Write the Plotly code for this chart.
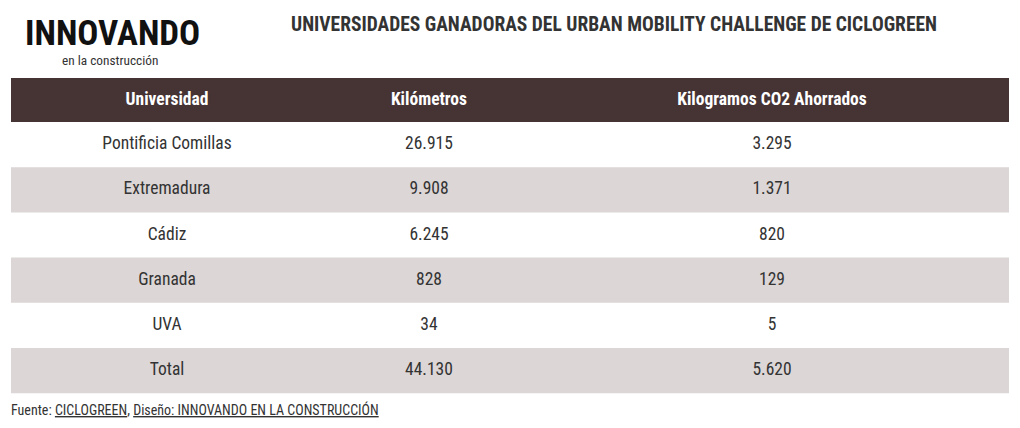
import plotly.graph_objects as go

universidades = ["Pontificia Comillas", "Extremadura", "Cádiz", "Granada", "UVA", "Total"]
kilometros = [26915, 9908, 6245, 828, 34, 44130]
kg_co2 = [3295, 1371, 820, 129, 5, 5620]
headers = ["Universidad", "Kilómetros", "Kilogramos CO2 Ahorrados"]

def fmt(v):
    return f"{v:,}".replace(",", ".")

W, H = 1020, 428
FONT = "Roboto Condensed, Liberation Sans Narrow, DejaVu Sans Condensed, Roboto, sans-serif"
HEAD_BG = "#463334"
STRIPE = "#dcd6d6"
CLEAR = "rgba(0,0,0,0)"

# table geometry (pixels)
X0, X1 = 11, 1009
TOP = 78
HEAD_H = 44
ROW_H = 45.2
HEAD_DROP = 3   # pushes header text down inside its band
ROW_DROP = 3    # extra push for the body text

def py(p):
    return 1 - p / H

fig = go.Figure(go.Table(
    domain=dict(x=[X0 / W, X1 / W], y=[0, py(TOP + HEAD_DROP)]),
    columnwidth=[312, 212, 474],
    header=dict(
        values=[f"<b>{h}</b>" for h in headers],
        fill_color=CLEAR,
        line_color=CLEAR,
        line_width=0,
        font=dict(family=FONT, size=17.5, color="white"),
        align="center",
        height=HEAD_H + ROW_DROP,
    ),
    cells=dict(
        values=[universidades, [fmt(v) for v in kilometros], [fmt(v) for v in kg_co2]],
        fill_color=CLEAR,
        line_color=CLEAR,
        line_width=0,
        font=dict(family=FONT, size=17.5, color="#333333"),
        align="center",
        height=ROW_H,
    ),
))

# background bands for header and striped rows
fig.add_shape(type="rect", xref="paper", yref="paper", layer="below",
              x0=X0 / W, x1=X1 / W, y0=py(TOP + HEAD_H), y1=py(TOP),
              fillcolor=HEAD_BG, line_width=0)
for i in range(len(universidades)):
    if i % 2 == 1:
        top = TOP + HEAD_H + i * ROW_H
        fig.add_shape(type="rect", xref="paper", yref="paper", layer="below",
                      x0=X0 / W, x1=X1 / W, y0=py(top + ROW_H), y1=py(top),
                      fillcolor=STRIPE, line_width=0)

fig.add_annotation(x=23 / W, y=py(33), xref="paper", yref="paper", xanchor="left", yanchor="middle",
                   text="<b>INNOVANDO</b>", showarrow=False,
                   font=dict(family=FONT, size=35, color="#111111"))
fig.add_annotation(x=60 / W, y=py(60), xref="paper", yref="paper", xanchor="left", yanchor="middle",
                   text="en la construcción", showarrow=False,
                   font=dict(family=FONT, size=13.3, color="#333333"))
fig.add_annotation(x=289 / W, y=py(24), xref="paper", yref="paper", xanchor="left", yanchor="middle",
                   text="<b>UNIVERSIDADES GANADORAS DEL URBAN MOBILITY CHALLENGE DE CICLOGREEN</b>",
                   showarrow=False, font=dict(family=FONT, size=19.5, color="#333333"))
fig.add_annotation(x=9 / W, y=py(409), xref="paper", yref="paper", xanchor="left", yanchor="middle",
                   text="Fuente: <span style='text-decoration:underline'>CICLOGREEN</span>, "
                        "<span style='text-decoration:underline'>Diseño: INNOVANDO EN LA CONSTRUCCIÓN</span>",
                   showarrow=False, font=dict(family=FONT, size=14, color="#333333"))

fig.update_layout(width=W, height=H, margin=dict(l=0, r=0, t=0, b=0),
                  paper_bgcolor="white", plot_bgcolor="white")
fig.write_html("out.html", config={"displayModeBar": False},
               post_script="document.body.style.margin='0';document.body.style.overflow='hidden';")
